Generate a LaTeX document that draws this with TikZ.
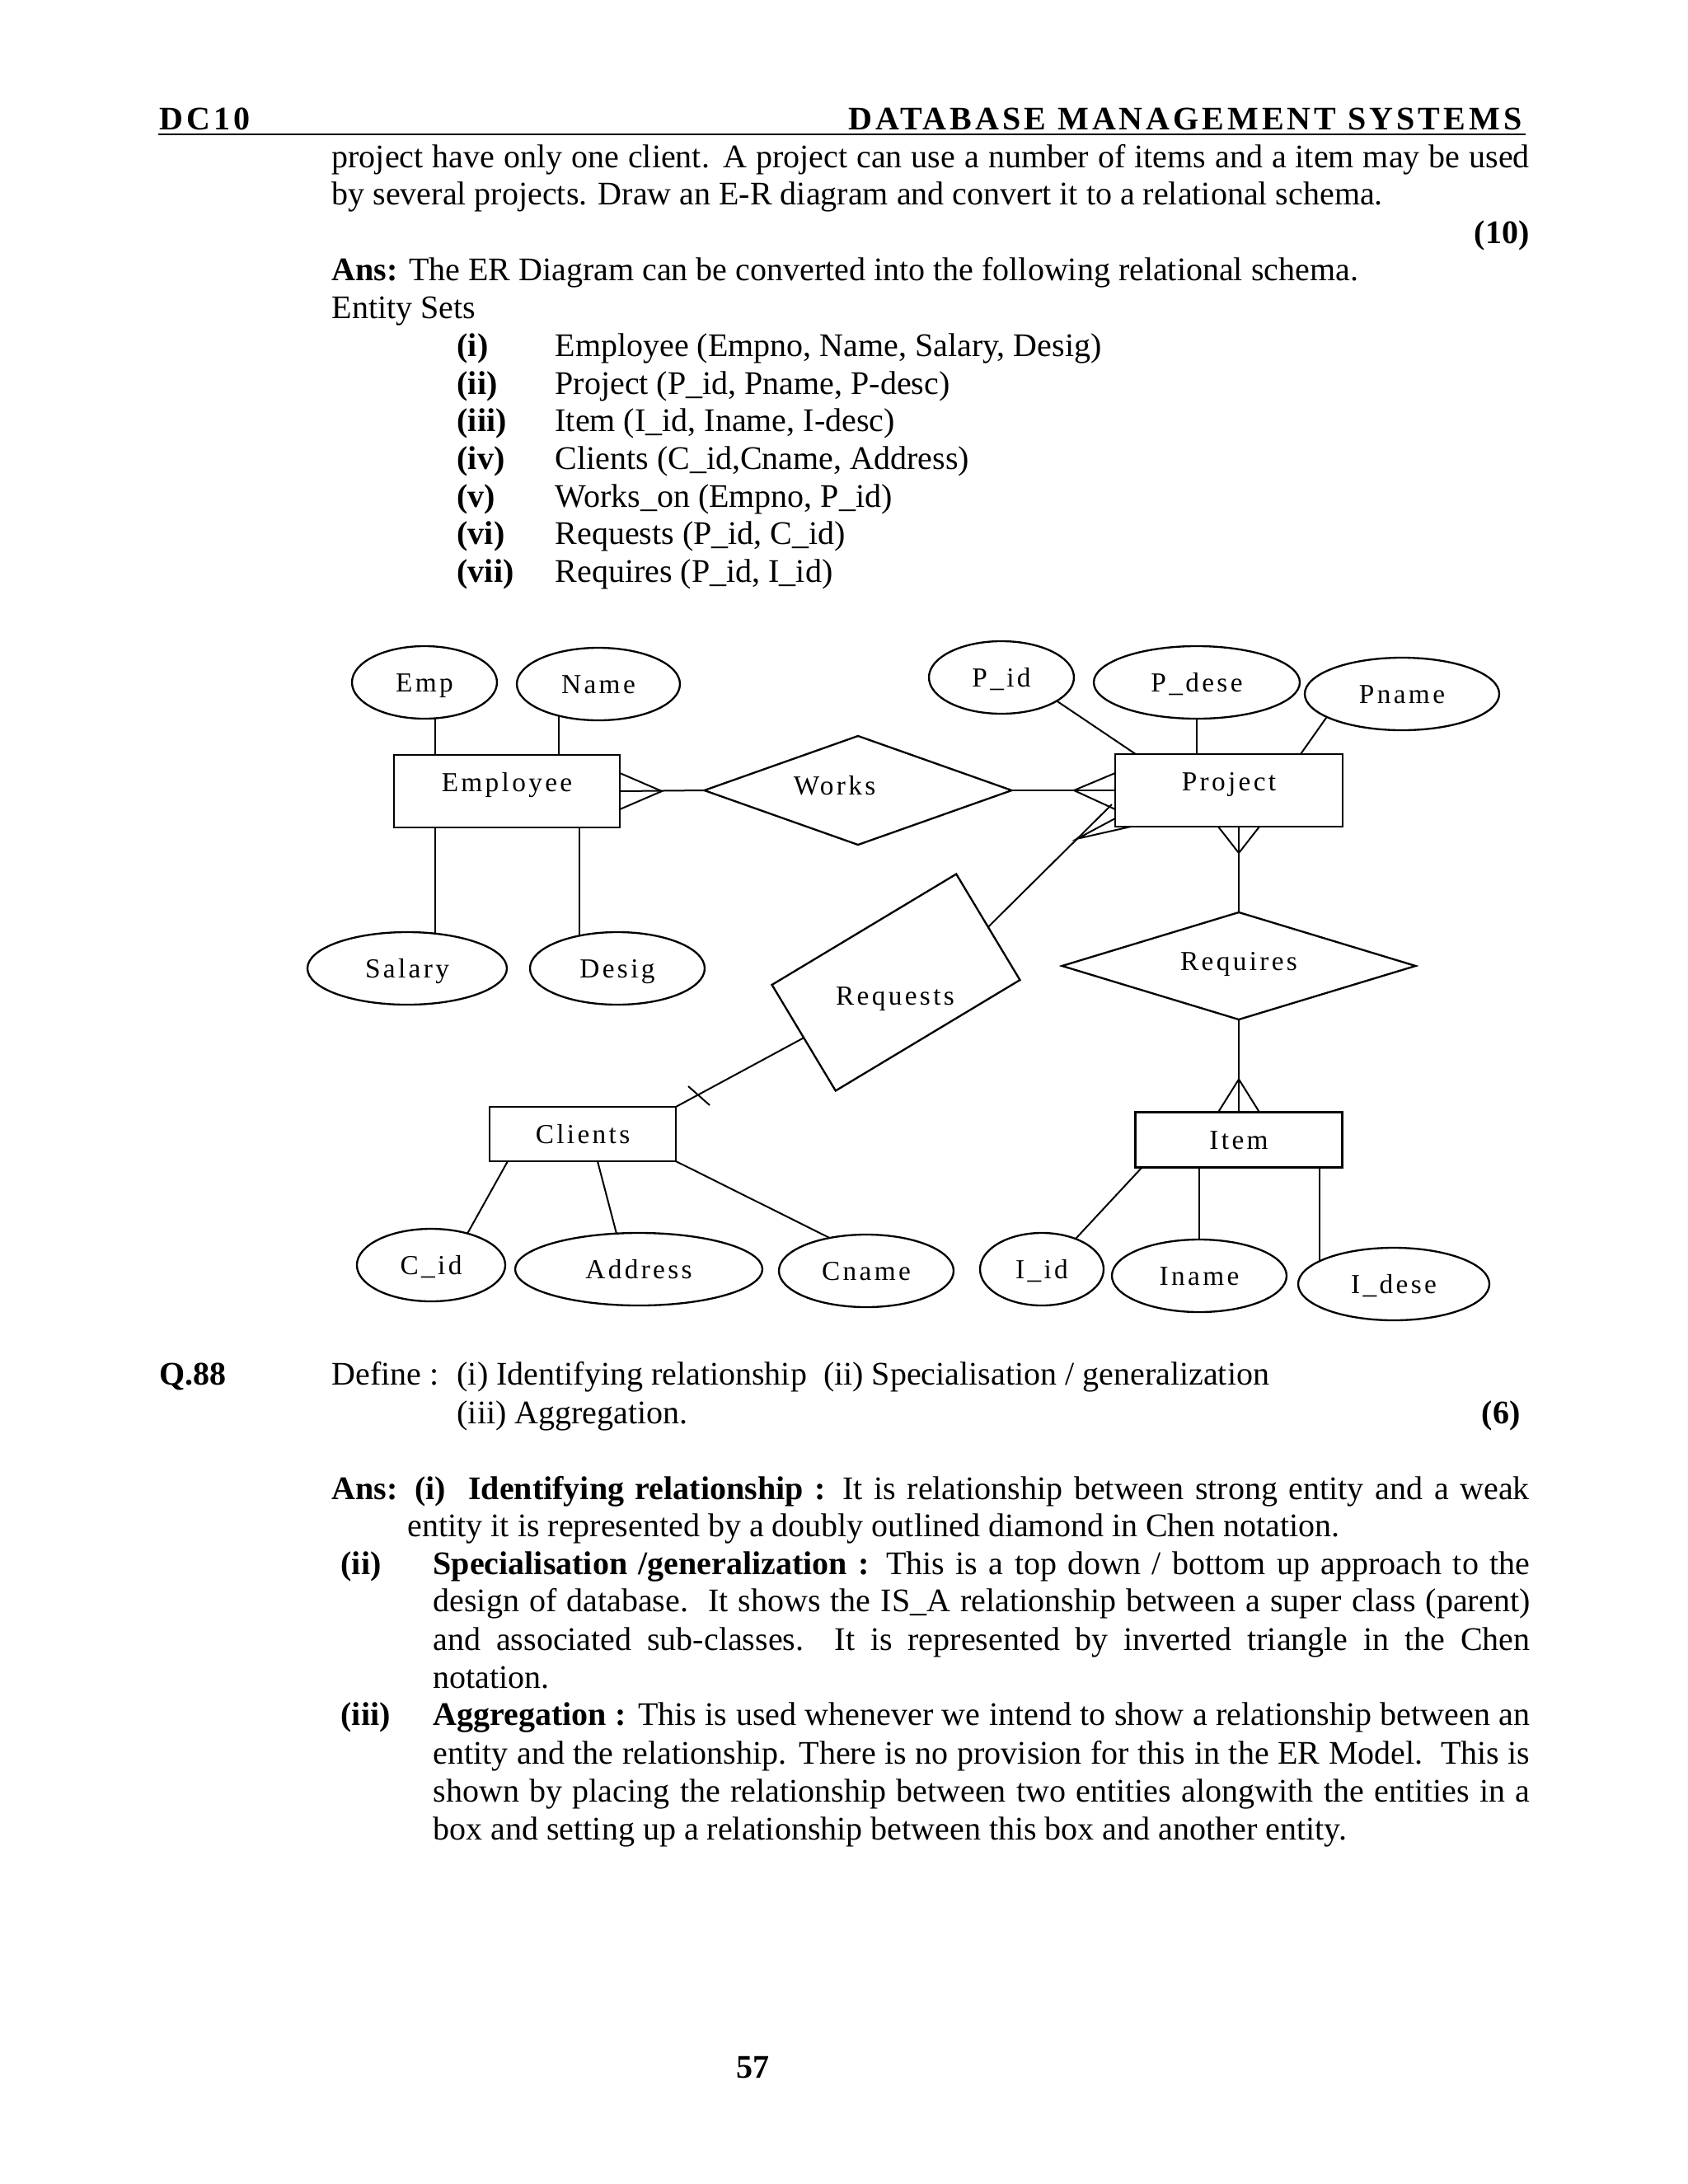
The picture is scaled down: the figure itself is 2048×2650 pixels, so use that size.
\documentclass[tikz,border=0pt]{standalone}
\usepackage{fontspec}
\setmainfont{Liberation Serif}
\newfontfamily\erfont[LetterSpace=10]{Liberation Serif}
\newfontfamily\hdrfont[LetterSpace=10]{Liberation Serif}
\usepackage{tikz}
\usetikzlibrary{calc, shapes.geometric}

\begin{document}
\begin{tikzpicture}[x=0.010542cm, y=-0.010542cm,
    txt/.style={anchor=base west, inner sep=0pt, font=\fontsize{12pt}{13.8pt}\selectfont},
    hdr/.style={anchor=base west, inner sep=0pt, font=\hdrfont\bfseries\fontsize{12pt}{14pt}\selectfont},
    lbl/.style={inner sep=0pt, outer sep=0pt, font=\erfont\fontsize{10pt}{12pt}\selectfont, text height=6.6pt, text depth=0pt},
    attr/.style={lbl, draw, ellipse, line width=0.7pt, minimum height=0.928cm},
    entity/.style={lbl, draw, rectangle, line width=0.7pt},
    rel/.style={lbl, draw, diamond, shape aspect=3, line width=0.7pt, text depth=3.6pt},
    ln/.style={line width=0.6pt}]

    \path[fill=white] (0,0) rectangle (2048,2650);
    \useasboundingbox (0,0) rectangle (2048,2650);

    % page header
    \node[hdr] (dc) at (193,157) {DC10};
    \node[hdr, anchor=base east] (dbms) at (1847,157) {DATABASE MANAGEMENT SYSTEMS};
    \draw[line width=0.75pt] (192,163) -- (1851,163);

    % question text and answer
    \node[txt] (q1) at (402,203) {\makebox[15.32cm][s]{project have only one client. A project can use a number of items and a item may be used}};
    \node[txt] (q2) at (402,248) {by several projects. Draw an E-R diagram and convert it to a relational schema.};
    \node[txt, anchor=base east] (marks) at (1856,295) {\textbf{(10)}};
    \node[txt] (ans) at (402,340) {\textbf{Ans:} The ER Diagram can be converted into the following relational schema.};
    \node[txt] (esets) at (402,386) {Entity Sets};
    \node[txt] (n1) at (554,432) {\textbf{(i)}};
    \node[txt] (s1) at (673,432) {Employee (Empno, Name, Salary, Desig)};
    \node[txt] (n2) at (554,478) {\textbf{(ii)}};
    \node[txt] (s2) at (673,478) {Project (P\_id, Pname, P-desc)};
    \node[txt] (n3) at (554,523) {\textbf{(iii)}};
    \node[txt] (s3) at (673,523) {Item (I\_id, Iname, I-desc)};
    \node[txt] (n4) at (554,569) {\textbf{(iv)}};
    \node[txt] (s4) at (673,569) {Clients (C\_id,Cname, Address)};
    \node[txt] (n5) at (554,615) {\textbf{(v)}};
    \node[txt] (s5) at (673,615) {Works\_on (Empno, P\_id)};
    \node[txt] (n6) at (554,660) {\textbf{(vi)}};
    \node[txt] (s6) at (673,660) {Requests (P\_id, C\_id)};
    \node[txt] (n7) at (554,706) {\textbf{(vii)}};
    \node[txt] (s7) at (673,706) {Requires (P\_id, I\_id)};

    % E-R diagram: entities and relationships
    \node[entity, minimum width=2.889cm, minimum height=0.928cm, text depth=6.6pt] (employee) at (615,960) {Employee};
    \node[entity, minimum width=2.910cm, minimum height=0.928cm, text depth=6.6pt] (project) at (1491,959) {Project};
    \node[entity, minimum width=2.383cm, minimum height=0.696cm] (clients) at (707,1376) {Clients};
    \node[entity, minimum width=2.646cm, minimum height=0.706cm] (item) at (1503,1383) {Item};
    \node[rel, minimum width=3.932cm, minimum height=1.392cm] (works) at (1041,959) {Works\hspace*{0.6cm}};
    \node[rel, minimum width=4.523cm, minimum height=1.371cm] (requires) at (1503,1172) {Requires};
    \node[draw, rectangle, line width=0.7pt, inner sep=0pt, outer sep=0pt, minimum width=2.751cm, minimum height=1.581cm, rotate=31] (requests) at (1087,1192) {};
    \node[lbl] (requestslbl) at (1086,1208) {Requests};

    % attributes
    \node[attr, minimum width=1.855cm] (emp) at (515,828) {Emp};
    \node[attr, minimum width=2.087cm] (ename) at (726,830) {Name};
    \node[attr, minimum width=2.551cm] (salary) at (494,1175) {Salary};
    \node[attr, minimum width=2.235cm] (desig) at (749,1175) {Desig};
    \node[attr, minimum width=1.855cm] (pid) at (1215,822) {P\_id};
    \node[attr, minimum width=2.636cm] (pdese) at (1452,828) {P\_dese};
    \node[attr, minimum width=2.488cm] (pname) at (1701,842) {Pname};
    \node[attr, minimum width=1.898cm] (cid) at (523,1535) {C\_id};
    \node[attr, minimum width=3.163cm] (addr) at (775,1540) {Address};
    \node[attr, minimum width=2.235cm] (cname) at (1051,1542) {Cname};
    \node[attr, minimum width=1.581cm] (iid) at (1264,1540) {I\_id};
    \node[attr, minimum width=2.235cm] (iname) at (1455,1548) {Iname};
    \node[attr, minimum width=2.446cm] (idese) at (1691,1558) {I\_dese};

    \draw[ln] (emp.287) -- (emp.287 |- employee.north);
    \draw[ln] (ename.219) -- (ename.219 |- employee.north);
    \draw[ln] (employee.south -| salary.51) -- (salary.51);
    \draw[ln] (employee.south -| desig.139) -- (desig.139);
    \draw[ln] (pid.337) -- ($(project.north west)!0.09!(project.north east)$);
    \draw[ln] (pdese.south) -- (pdese.south |- project.north);
    \draw[ln] (pname.197) -- ($(project.north east)+(-51,0)$);
    \draw[ln] ($(clients.south west)+(22,0)$) -- (cid.41);
    \draw[ln] ($(clients.south west)+(131,0)$) -- (addr.122);
    \draw[ln] (clients.south east) -- (cname.138);
    \draw[ln] ($(item.south west)+(8,0)$) -- (iid.42);
    \draw[ln] (iname.north |- item.south) -- (iname.north);
    \draw[ln] (idese.163 |- item.south) -- (idese.163);

    % relationship lines with crow's feet
    \draw[ln] (employee.east) -- (works.west);
    \draw[ln] ($(employee.east)+(0,-22)$) -- ($(employee.east)+(51,0)$) -- ($(employee.east)+(0,22)$);
    \draw[ln] (works.east) -- (project.west);
    \draw[ln] ($(project.west)+(0,-21)$) -- ($(project.west)+(-50,0)$) -- ($(project.west)+(0,23)$);

    \coordinate (rqend) at ($(project.west)+(-4,17)$);
    \coordinate (rqfoot) at ($(requests.east)!0.72!(rqend)$);
    \draw[ln] (requests.east) -- (rqend);
    \draw[ln] ($(project.south west)+(0,-10)$) -- (rqfoot) -- ($(project.south west)+(19,0)$);
    \draw[ln] (requests.west) -- (clients.north east);
    \draw[ln] ($(clients.north east)+(15,-25)$) -- ($(clients.north east)+(41,-2)$);

    \coordinate (pbot) at (requires.north |- project.south);
    \draw[ln] (pbot) -- (requires.north);
    \draw[ln] ($(pbot)+(-25,0)$) -- ($(pbot)+(0,32)$) -- ($(pbot)+(25,0)$);
    \draw[ln] (requires.south) -- (item.north);
    \draw[ln] ($(item.north)+(-25,0)$) -- ($(item.north)+(0,-40)$) -- ($(item.north)+(25,0)$);

    % next question
    \node[txt] (q88) at (193,1680) {\textbf{Q.88}};
    \node[txt] (def) at (402,1680) {Define :};
    \node[txt] (def1) at (554,1680) {(i) Identifying relationship\ \ (ii) Specialisation / generalization};
    \node[txt] (def2) at (554,1727) {(iii) Aggregation.};
    \node[txt, anchor=base east] (marks2) at (1845,1727) {\textbf{(6)}};

    \node[txt] (a1) at (402,1819) {\makebox[15.32cm][s]{\textbf{Ans: (i)\ \ Identifying relationship :} It is relationship between strong entity and a weak}};
    \node[txt] (a2) at (494,1864) {entity it is represented by a doubly outlined diamond in Chen notation.};
    \node[txt] (b0) at (413,1910) {\textbf{(ii)}};
    \node[txt] (b1) at (525,1910) {\makebox[14.03cm][s]{\textbf{Specialisation /generalization :} This is a top down / bottom up approach to the}};
    \node[txt] (b2) at (525,1955) {\makebox[14.03cm][s]{design of database.\ \ It shows the IS\_A relationship between a super class (parent)}};
    \node[txt] (b3) at (525,2002) {\makebox[14.03cm][s]{and associated sub-classes.\ \ It is represented by inverted triangle in the Chen}};
    \node[txt] (b4) at (525,2048) {notation.};
    \node[txt] (c0) at (413,2093) {\textbf{(iii)}};
    \node[txt] (c1) at (525,2093) {\makebox[14.03cm][s]{\textbf{Aggregation :} This is used whenever we intend to show a relationship between an}};
    \node[txt] (c2) at (525,2140) {\makebox[14.03cm][s]{entity and the relationship. There is no provision for this in the ER Model.\ \ This is}};
    \node[txt] (c3) at (525,2186) {\makebox[14.03cm][s]{shown by placing the relationship between two entities alongwith the entities in a}};
    \node[txt] (c4) at (525,2232) {box and setting up a relationship between this box and another entity.};

    \node[txt, anchor=base] (page) at (913,2521) {\textbf{57}};
\end{tikzpicture}
\end{document}
